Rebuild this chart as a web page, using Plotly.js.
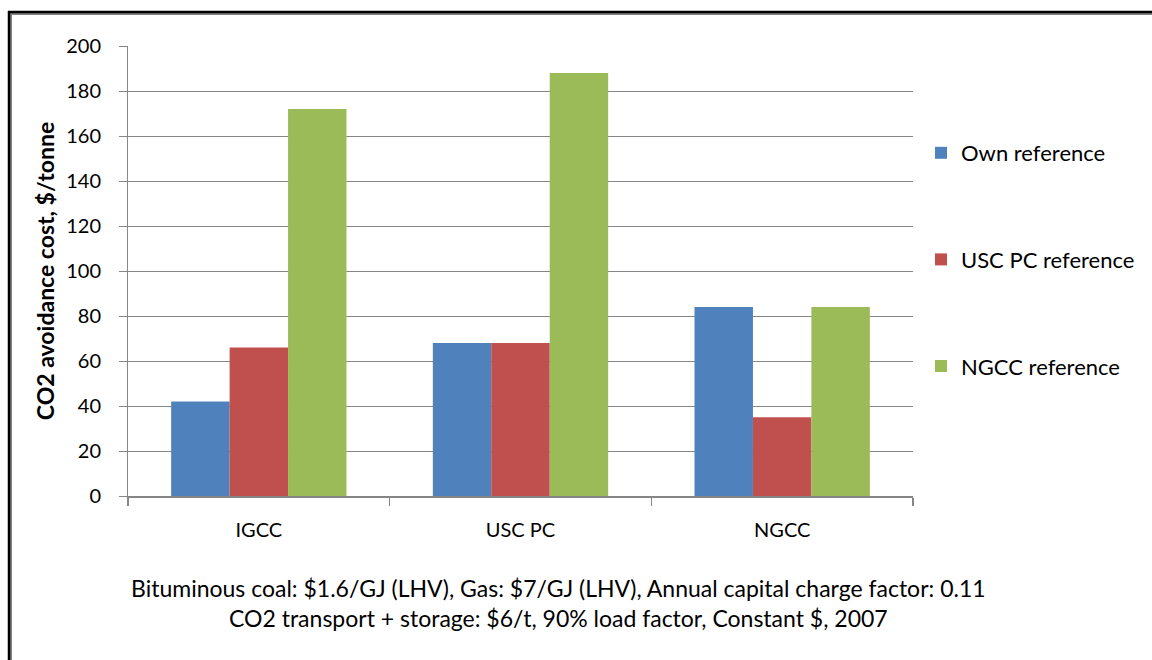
<!DOCTYPE html>
<html>
<head>
<meta charset="utf-8">
<script src="https://cdn.plot.ly/plotly-3.0.1.min.js"></script>
<style>html,body{margin:0;padding:0;background:#fff;}#chart{width:1152px;height:660px;}</style>
</head>
<body>
<div id="chart"></div>
<script>
const categories = ["IGCC", "USC PC", "NGCC"];
const seriesNames = ["Own reference", "USC PC reference", "NGCC reference"];
const ownReference = [42, 68, 84];
const uscPcReference = [66, 68, 35];
const ngccReference = [172, 188, 84];
const yTicks = [0, 20, 40, 60, 80, 100, 120, 140, 160, 180, 200];
const footnote = ["Bituminous coal: $1.6/GJ (LHV), Gas: $7/GJ (LHV), Annual capital charge factor: 0.11",
                  "CO2 transport + storage: $6/t, 90% load factor, Constant $, 2007"];
const colors = ["#4F81BD", "#C0504D", "#9BBB59"];
const seriesValues = [ownReference, uscPcReference, ngccReference];

const FONT = "Lato, 'Open Sans', sans-serif";

const traces = seriesValues.map((vals, i) => ({
  type: "bar",
  name: seriesNames[i],
  x: categories,
  y: vals,
  marker: {color: colors[i]},
  legendgroup: "g" + i,
  hoverinfo: "x+y+name"
}));

const L = 128, R = 913, T = 46, B = 496, W = 1152, H = 660;
const px = x => (x - L) / (R - L);
const py = y => (B - y) / (B - T);

const layout = {
  width: W, height: H,
  margin: {l: L, r: W - R, t: T, b: H - B, pad: 0},
  paper_bgcolor: "#ffffff",
  plot_bgcolor: "#ffffff",
  barmode: "group",
  bargap: 0.33,
  bargroupgap: 0,
  font: {family: FONT, size: 20, color: "#000000"},
  xaxis: {
    type: "category",
    showgrid: false,
    showline: true, linecolor: "#868686", linewidth: 2,
    ticks: "outside", tickson: "boundaries", ticklen: 8, tickcolor: "#868686", tickwidth: 1.5,
    tickfont: {family: FONT, size: 20, color: "#000"},
    ticklabelstandoff: 15,
    automargin: false
  },
  yaxis: {
    range: [0, 200],
    tickvals: yTicks,
    ticktext: yTicks.map(String),
    showgrid: true, gridcolor: "#868686", gridwidth: 1,
    showline: true, linecolor: "#868686", linewidth: 1,
    ticks: "outside", ticklen: 8, tickcolor: "#868686",
    tickfont: {family: FONT, size: 20, color: "#000"},
    ticklabelstandoff: 14,
    zeroline: false,
    automargin: false,
    title: {text: "<b>CO2 avoidance cost, $/tonne</b>", font: {family: FONT, size: 23, color: "#000"}, standoff: 5}
  },
  showlegend: true,
  legend: {
    x: px(921), y: py(132), xanchor: "left", yanchor: "top",
    font: {family: FONT, size: 22, color: "#000"},
    tracegroupgap: 75,
    traceorder: "grouped",
    bgcolor: "rgba(0,0,0,0)",
    itemwidth: 30
  },
  annotations: [
    {text: footnote[0], xref: "paper", yref: "paper", x: px(558), y: py(588), xanchor: "center", yanchor: "middle", showarrow: false, font: {family: FONT, size: 23, color: "#000"}},
    {text: footnote[1], xref: "paper", yref: "paper", x: px(558), y: py(618), xanchor: "center", yanchor: "middle", showarrow: false, font: {family: FONT, size: 23, color: "#000"}}
  ],
  shapes: [
    {type: "line", xref: "paper", yref: "paper", x0: px(9), x1: px(1152), y0: py(14), y1: py(14), line: {color: "#808080", width: 2}, layer: "above"},
    {type: "line", xref: "paper", yref: "paper", x0: px(11), x1: px(11), y0: py(12), y1: py(660), line: {color: "#808080", width: 2}, layer: "above"},
    {type: "line", xref: "paper", yref: "paper", x0: px(8), x1: px(1152), y0: py(12), y1: py(12), line: {color: "#000000", width: 2.5}, layer: "above"},
    {type: "line", xref: "paper", yref: "paper", x0: px(9), x1: px(9), y0: py(11), y1: py(660), line: {color: "#000000", width: 2.5}, layer: "above"}
  ]
};

Plotly.newPlot("chart", traces, layout, {displayModeBar: false, staticPlot: true});
</script>
</body>
</html>
